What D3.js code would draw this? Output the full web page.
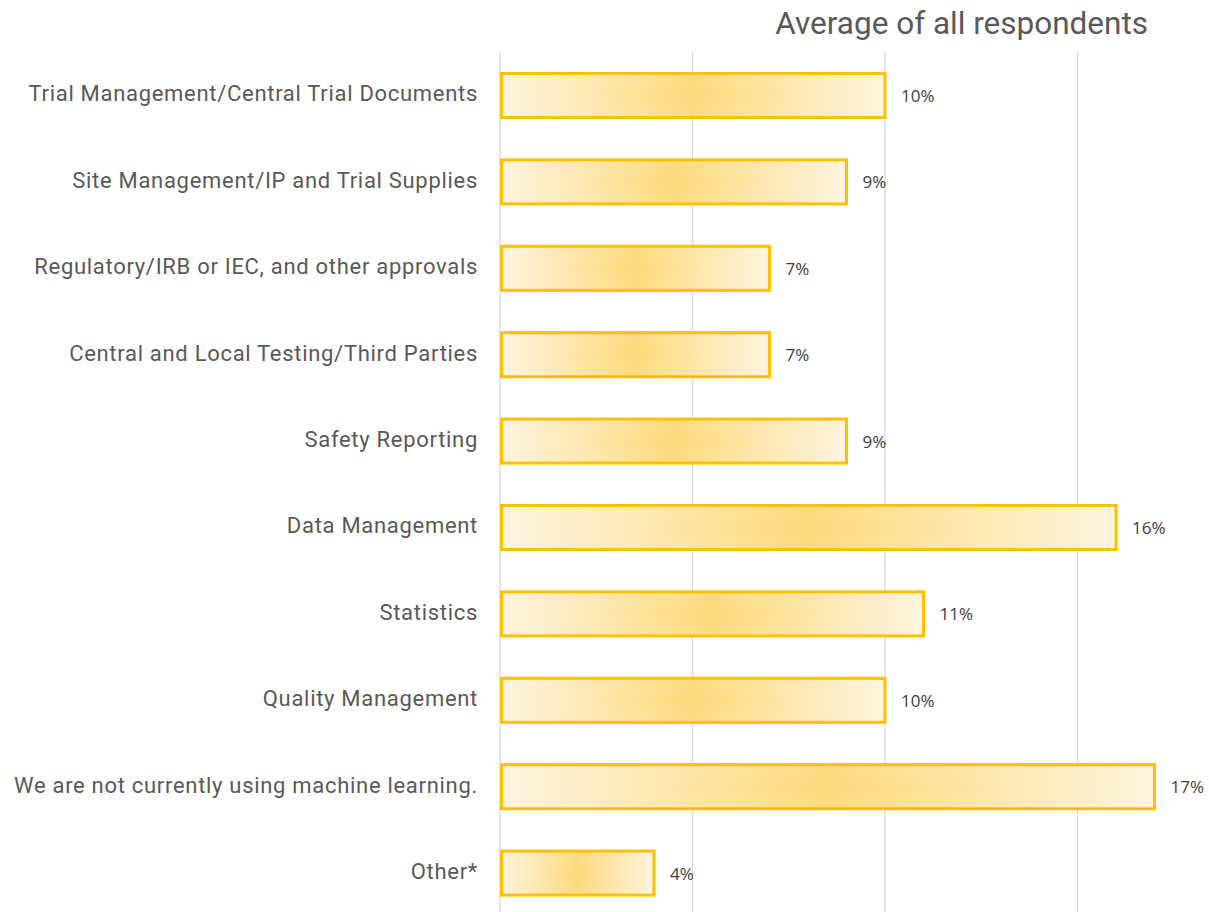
<!DOCTYPE html>
<html>
<head>
<meta charset="utf-8">
<script src="https://cdn.jsdelivr.net/npm/d3@7"></script>
<style>
  html, body { margin: 0; padding: 0; background: #ffffff; }
  svg { display: block; }
</style>
</head>
<body>
<svg id="chart" width="1209" height="912"></svg>
<script>
// Areas where machine learning is used (share of respondents)
const categories = [
  "Trial Management/Central Trial Documents",
  "Site Management/IP and Trial Supplies",
  "Regulatory/IRB or IEC, and other approvals",
  "Central and Local Testing/Third Parties",
  "Safety Reporting",
  "Data Management",
  "Statistics",
  "Quality Management",
  "We are not currently using machine learning.",
  "Other*"
];
const values = [0.10, 0.09, 0.07, 0.07, 0.09, 0.16, 0.11, 0.10, 0.17, 0.04];
const gridTicks = [0, 0.05, 0.10, 0.15];
const title = "Average of all respondents";

const svg = d3.select("#chart");

const x = d3.scaleLinear().domain([0, 0.20]).range([500, 1270]);
const y = d3.scaleBand()
  .domain(categories)
  .range([52.3, 916.3])
  .paddingInner(0.49)
  .paddingOuter(0.245);

// Bar fill: light ends with a warm centre, plus a soft central glow
const defs = svg.append("defs");
const grad = defs.append("linearGradient")
  .attr("id", "barFill")
  .attr("x1", "0").attr("x2", "1").attr("y1", "0").attr("y2", "0");
grad.append("stop").attr("offset", "0%").attr("stop-color", "#fef4df");
grad.append("stop").attr("offset", "50%").attr("stop-color", "#fcdb7f");
grad.append("stop").attr("offset", "100%").attr("stop-color", "#fef4df");

const glow = defs.append("radialGradient")
  .attr("id", "barGlow")
  .attr("cx", "0.5").attr("cy", "0.5").attr("r", "0.5");
glow.append("stop").attr("offset", "0%").attr("stop-color", "#fcd570").attr("stop-opacity", 0.35);
glow.append("stop").attr("offset", "55%").attr("stop-color", "#fcd570").attr("stop-opacity", 0);

// Vertical gridlines
svg.append("g")
  .selectAll("line")
  .data(gridTicks)
  .join("line")
  .attr("x1", d => x(d)).attr("x2", d => x(d))
  .attr("y1", 52).attr("y2", 912)
  .attr("stroke", "#d9d9d9")
  .attr("stroke-width", 1.3);

// Bars
const bars = svg.append("g")
  .selectAll("g")
  .data(values)
  .join("g");

bars.append("rect")
  .attr("x", x(0) + 1.5)
  .attr("y", (d, i) => y(categories[i]))
  .attr("width", d => x(d) - x(0) - 1.5)
  .attr("height", y.bandwidth())
  .attr("fill", "url(#barFill)");

bars.append("rect")
  .attr("x", x(0) + 1.5)
  .attr("y", (d, i) => y(categories[i]))
  .attr("width", d => x(d) - x(0) - 1.5)
  .attr("height", y.bandwidth())
  .attr("fill", "url(#barGlow)")
  .attr("stroke", "#ffc000")
  .attr("stroke-width", 3);

// Category labels
svg.append("g")
  .selectAll("text")
  .data(categories)
  .join("text")
  .attr("x", 478)
  .attr("y", d => y(d) + y.bandwidth() / 2)
  .attr("text-anchor", "end")
  .attr("dominant-baseline", "middle")
  .attr("font-family", "Roboto, sans-serif")
  .attr("font-size", 22)
  .attr("letter-spacing", 0.7)
  .attr("fill", "#595959")
  .text(d => d);

// Value labels
svg.append("g")
  .selectAll("text")
  .data(values)
  .join("text")
  .attr("x", d => x(d) + 16)
  .attr("y", (d, i) => y(categories[i]) + y.bandwidth() / 2 + 2)
  .attr("dominant-baseline", "middle")
  .attr("font-family", "'Open Sans', sans-serif")
  .attr("font-size", 17)
  .attr("fill", "#404040")
  .text(d => d3.format(".0%")(d));

// Title
svg.append("text")
  .attr("x", 1148)
  .attr("y", 26)
  .attr("text-anchor", "end")
  .attr("dominant-baseline", "middle")
  .attr("font-family", "Roboto, sans-serif")
  .attr("font-size", 31.5)
  .attr("fill", "#595959")
  .text(title);
</script>
</body>
</html>
